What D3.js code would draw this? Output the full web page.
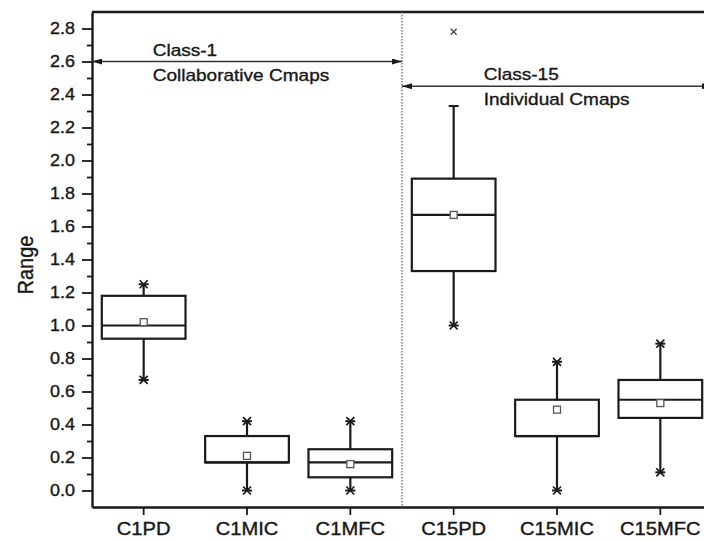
<!DOCTYPE html>
<html>
<head>
<meta charset="utf-8">
<script src="https://cdn.jsdelivr.net/npm/d3@7"></script>
<style>
  body { margin: 0; background: #fff; }
  svg { display: block; font-family: "Liberation Sans", Arial, sans-serif; }
  svg text { stroke: #111; stroke-width: 0.35px; }
</style>
</head>
<body>
<div class="canvas"></div>
<script>
// box plot values
const categories = ['C1PD', 'C1MIC', 'C1MFC', 'C15PD', 'C15MIC', 'C15MFC'];
const whiskerLow = [0.67, 0.0, 0.0, 1.0, 0.0, 0.11];
const q1 = [0.92, 0.17, 0.08, 1.33, 0.33, 0.44];
const median = [1.0, 0.17, 0.17, 1.67, 0.33, 0.55];
const q3 = [1.18, 0.33, 0.25, 1.89, 0.55, 0.67];
const whiskerHigh = [1.25, 0.42, 0.42, 2.33, 0.78, 0.89];
const means = [1.02, 0.21, 0.16, 1.67, 0.49, 0.53];
const minMarks = [0.67, 0.0, 0.0, 1.0, 0.0, 0.11];
const maxMarks = [1.25, 0.42, 0.42, 2.78, 0.78, 0.89];
const yTicks = [0, 0.2, 0.4, 0.6, 0.8, 1.0, 1.2, 1.4, 1.6, 1.8, 2.0, 2.2, 2.4, 2.6, 2.8];
const yMinorTicks = [0.1, 0.3, 0.5, 0.7, 0.9, 1.1, 1.3, 1.5, 1.7, 1.9, 2.1, 2.3, 2.5, 2.7];
const groups = [
  { label: 'Class-1', sub: 'Collaborative Cmaps', from: 'C1PD', to: 'C1MFC', level: 2.6 },
  { label: 'Class-15', sub: 'Individual Cmaps', from: 'C15PD', to: 'C15MFC', level: 2.45 }
];

const boxes = categories.map((c, i) => ({
  name: c, lo: whiskerLow[i], q1: q1[i], med: median[i], q3: q3[i],
  hi: whiskerHigh[i], mean: means[i], min: minMarks[i], max: maxMarks[i]
}));

const W = 704, H = 542;
const mLeft = 92, mRight = 712, mTop = 12, mBottom = 507;
const ink = '#1a1a1a';
const SX = 1.12; // the source image is a little stretched sideways

const svg = d3.select('.canvas')
  .append('svg')
  .attr('width', W)
  .attr('height', H);

const x = d3.scaleBand().domain(categories).range([mLeft, mRight]).padding(0);
const y = d3.scaleLinear().domain([-0.1, 2.9]).range([mBottom, mTop]);
const cx = d => x(d) + x.bandwidth() / 2;
const boxW = x.bandwidth() * 0.81;

// arrow heads
const defs = svg.append('defs');
['end', 'start'].forEach(k => {
  defs.append('marker')
    .attr('id', 'arr-' + k)
    .attr('viewBox', '0 0 10 6')
    .attr('refX', k === 'end' ? 10 : 0)
    .attr('refY', 3)
    .attr('markerWidth', 11)
    .attr('markerHeight', 6)
    .attr('markerUnits', 'userSpaceOnUse')
    .attr('orient', 'auto')
    .append('path')
    .attr('d', k === 'end' ? 'M0,0L10,3L0,6Z' : 'M10,0L0,3L10,6Z')
    .attr('fill', ink);
});

// y axis, major + minor ticks
const yAxis = svg.append('g')
  .attr('transform', `translate(${mLeft},0)`)
  .call(d3.axisLeft(y).tickValues(yTicks).tickFormat(d3.format('.1f')).tickSize(10).tickSizeOuter(0).tickPadding(8));
svg.append('g')
  .attr('transform', `translate(${mLeft},0)`)
  .call(d3.axisLeft(y).tickValues(yMinorTicks).tickFormat('').tickSize(5).tickSizeOuter(0))
  .select('.domain').remove();

yAxis.selectAll('text')
  .attr('font-size', 16)
  .attr('fill', ink)
  .attr('transform', `scale(${SX},1)`)
  .attr('x', -17 / SX);

// x axis
const xAxis = svg.append('g')
  .attr('transform', `translate(0,${mBottom})`)
  .call(d3.axisBottom(x).tickSize(8).tickSizeOuter(0).tickPadding(7));
xAxis.selectAll('text')
  .attr('font-size', 18)
  .attr('fill', ink)
  .attr('transform', `scale(${SX},1)`);

svg.selectAll('.tick line').attr('stroke', ink).attr('stroke-width', 1.8);
svg.selectAll('.domain').attr('stroke', ink).attr('stroke-width', 2.4);

// top frame
svg.append('line')
  .attr('x1', mLeft).attr('x2', mRight)
  .attr('y1', mTop).attr('y2', mTop)
  .attr('stroke', ink).attr('stroke-width', 2.4);

// y label
svg.append('text')
  .attr('transform', `translate(33,265) rotate(-90) scale(1,${SX})`)
  .attr('text-anchor', 'middle')
  .attr('font-size', 20)
  .attr('fill', ink)
  .text('Range');

// dotted separator between the two classes
svg.append('line')
  .attr('x1', x('C15PD')).attr('x2', x('C15PD'))
  .attr('y1', mTop).attr('y2', mBottom)
  .attr('stroke', '#666')
  .attr('stroke-width', 1.3)
  .attr('stroke-dasharray', '1.5,1.5');

// class annotations
groups.forEach((g, i) => {
  const x0 = i === 0 ? mLeft : x(g.from);
  const x1 = i === 0 ? x(g.to) + x.bandwidth() : mRight;
  const yy = y(g.level);
  svg.append('line')
    .attr('x1', x0).attr('x2', x1)
    .attr('y1', yy).attr('y2', yy)
    .attr('stroke', '#333')
    .attr('stroke-width', 1.5)
    .attr('marker-start', 'url(#arr-start)')
    .attr('marker-end', 'url(#arr-end)');
  const tx = cx(g.from) + (i === 0 ? 9 : 30);
  svg.append('text')
    .attr('transform', `translate(${tx},${yy - 6}) scale(${SX},1)`)
    .attr('font-size', 17).attr('fill', ink)
    .text(g.label);
  svg.append('text')
    .attr('transform', `translate(${tx},${yy + 19}) scale(${SX},1)`)
    .attr('font-size', 17).attr('fill', ink)
    .text(g.sub);
});

// boxes
const node = svg.append('g').selectAll('g')
  .data(boxes)
  .enter()
  .append('g')
  .attr('transform', d => `translate(${cx(d.name)},0)`);

node.append('line')
  .attr('y1', d => y(d.hi)).attr('y2', d => y(d.q3))
  .attr('stroke', ink).attr('stroke-width', 2.2);
node.append('line')
  .attr('y1', d => y(d.q1)).attr('y2', d => y(d.lo))
  .attr('stroke', ink).attr('stroke-width', 2.2);

// whisker caps
node.append('line')
  .attr('x1', -5).attr('x2', 5)
  .attr('y1', d => y(d.hi)).attr('y2', d => y(d.hi))
  .attr('stroke', ink).attr('stroke-width', 2);
node.append('line')
  .attr('x1', -5).attr('x2', 5)
  .attr('y1', d => y(d.lo)).attr('y2', d => y(d.lo))
  .attr('stroke', ink).attr('stroke-width', 2);

node.append('rect')
  .attr('x', -boxW / 2)
  .attr('width', boxW)
  .attr('y', d => y(d.q3))
  .attr('height', d => y(d.q1) - y(d.q3))
  .attr('fill', '#fff')
  .attr('stroke', ink)
  .attr('stroke-width', 2.2);

node.append('line')
  .attr('x1', -boxW / 2).attr('x2', boxW / 2)
  .attr('y1', d => y(d.med)).attr('y2', d => y(d.med))
  .attr('stroke', ink).attr('stroke-width', 2.2);

// mean squares
node.append('rect')
  .attr('x', -3.5).attr('width', 7)
  .attr('y', d => y(d.mean) - 3.5).attr('height', 7)
  .attr('fill', '#fff')
  .attr('stroke', '#555')
  .attr('stroke-width', 1.3);

// min / max crosses
const cross = s => `M${-s},${-s}L${s},${s}M${-s},${s}L${s},${-s}`;
node.append('path')
  .attr('transform', d => `translate(0,${y(d.min)})`)
  .attr('d', cross(4))
  .attr('stroke', ink).attr('stroke-width', 1.7).attr('fill', 'none');
node.append('path')
  .attr('transform', d => `translate(0,${y(d.max)})`)
  .attr('d', d => d.max > d.hi ? cross(3) : cross(4))
  .attr('stroke', d => d.max > d.hi ? '#444' : ink)
  .attr('stroke-width', d => d.max > d.hi ? 1.3 : 1.7)
  .attr('fill', 'none');
</script>
</body>
</html>
